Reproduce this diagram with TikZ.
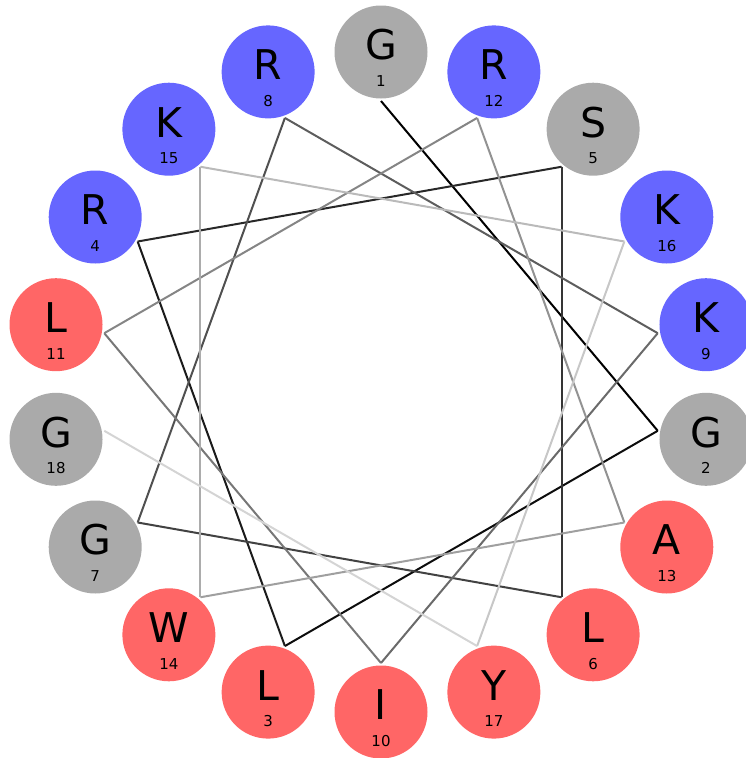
\documentclass[tikz,border=0pt]{standalone}
\usepackage{fontspec}
\setmainfont{DejaVu Sans}
\definecolor{resblue}{RGB}{102,102,255}
\definecolor{resred}{RGB}{255,102,102}
\definecolor{resgray}{RGB}{170,170,170}
\begin{document}
\begin{tikzpicture}[x=1pt,y=-1pt,
  res/.style={circle,minimum size=93pt,inner sep=0pt},
  letter/.style={font=\fontsize{41}{41}\selectfont},
  num/.style={font=\fontsize{15}{15}\selectfont},
  helix/.style={line width=2pt}]
\useasboundingbox (0,0) rectangle (746,758);
% residues: index/letter/colour
\foreach \k/\l/\c in {1/G/resgray,2/G/resgray,3/L/resred,4/R/resblue,5/S/resgray,6/L/resred,7/G/resgray,8/R/resblue,9/K/resblue,10/I/resred,11/L/resred,12/R/resblue,13/A/resred,14/W/resred,15/K/resblue,16/K/resblue,17/Y/resred,18/G/resgray}{
  \pgfmathsetmacro{\ang}{90-(\k-1)*100}
  \coordinate (p\k) at ({381+281*cos(\ang)},{382-281*sin(\ang)});
  \node[res,fill=\c] (r\k) at ({381+330*cos(\ang)},{382-330*sin(\ang)}) {};
  \node[letter,anchor=center] (t\k) at ([yshift=7pt]r\k.center) {\l};
  \node[num,anchor=center] (n\k) at ([yshift=-29pt]r\k.center) {\k};
}
\foreach \k in {1,...,17}{
  \pgfmathtruncatemacro{\nx}{\k+1}
  \pgfmathsetmacro{\shade}{100-(\k-1)*5.2}
  \draw[helix,draw=black!\shade] (p\k) -- (p\nx);
}
\end{tikzpicture}
\end{document}
